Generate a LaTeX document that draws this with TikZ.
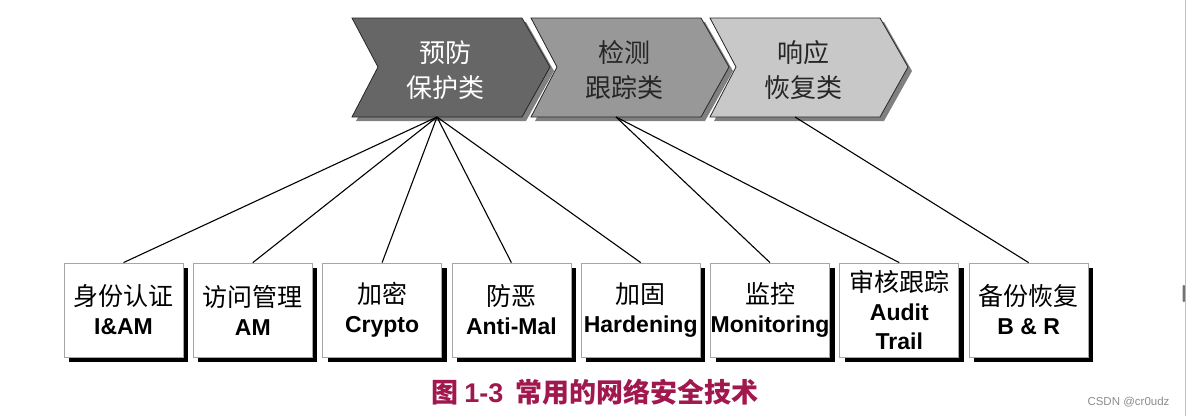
\documentclass[tikz,border=0pt]{standalone}
\usepackage{fontspec}
\setmainfont{Liberation Sans}
\newfontfamily\zh{Noto Sans CJK SC}
\usetikzlibrary{shadows}
\definecolor{titlered}{RGB}{160,24,78}
\definecolor{chevdark}{RGB}{102,102,102}
\definecolor{chevmid}{RGB}{152,152,152}
\definecolor{chevlight}{RGB}{200,200,200}
\begin{document}
\begin{tikzpicture}[x=1pt,y=-1pt]
	\tikzstyle{chev}=[draw=black!85, line width=0.8pt]
	\tikzstyle{chevshadow}=[fill=black!50]
	\tikzstyle{chevtext}=[align=center, font=\zh\fontsize{26}{35}\selectfont]
	\tikzstyle{box}=[rectangle, draw=black!35, fill=white, line width=0.8pt, minimum width=119pt, minimum height=94pt, inner sep=0pt, align=center, font=\fontsize{23}{29}\selectfont\bfseries, drop shadow={shadow xshift=5pt, shadow yshift=-5pt, fill=black, opacity=1}]
	\tikzstyle{edge}=[draw, line width=1.1pt]
	\useasboundingbox (0,0) rectangle (1187,416);
	% three stages
	\path[chevshadow] (356,22) -- (526,22) -- (554,71) -- (526,121) -- (356,121) -- (382,71) -- cycle;
	\path[chev, fill=chevdark] (352,18) -- (522,18) -- (550,67) -- (522,117) -- (352,117) -- (378,67) -- cycle;
	\path[chevshadow] (535,22) -- (705,22) -- (733,71) -- (705,121) -- (535,121) -- (561,71) -- cycle;
	\path[chev, fill=chevmid] (531,18) -- (701,18) -- (729,67) -- (701,117) -- (531,117) -- (557,67) -- cycle;
	\path[chevshadow] (714,22) -- (884,22) -- (912,71) -- (884,121) -- (714,121) -- (740,71) -- cycle;
	\path[chev, fill=chevlight] (710,18) -- (880,18) -- (908,67) -- (880,117) -- (710,117) -- (736,67) -- cycle;
	\node [chevtext, text=white] (t1) at (445,70) {预防\\保护类};
	\node [chevtext, text=black!85] (t2) at (624,70) {检测\\跟踪类};
	\node [chevtext, text=black!85] (t3) at (803,70) {响应\\恢复类};
	\coordinate (c1) at (437,117);
	\coordinate (c2) at (616,117);
	\coordinate (c3) at (795,117);
	% techniques
	\node [box] (b1) at (123.5,310) {{\zh\mdseries\fontsize{25}{29}\selectfont 身份认证}\\I\&AM};
	\node [box] (b2) at (252.8,310) {{\zh\mdseries\fontsize{25}{29}\selectfont 访问管理}\\AM};
	\node [box] (b3) at (382.1,310) {{\zh\mdseries\fontsize{25}{29}\selectfont 加密}\\Crypto};
	\node [box] (b4) at (511.4,310) {{\zh\mdseries\fontsize{25}{29}\selectfont 防恶}\\Anti-Mal};
	\node [box] (b5) at (640.7,310) {{\zh\mdseries\fontsize{25}{29}\selectfont 加固}\\Hardening};
	\node [box] (b6) at (770.0,310) {{\zh\mdseries\fontsize{25}{29}\selectfont 监控}\\Monitoring};
	\node [box] (b7) at (899.3,310) {{\zh\mdseries\fontsize{25}{29}\selectfont 审核跟踪}\\Audit\\Trail};
	\node [box] (b8) at (1028.6,310) {{\zh\mdseries\fontsize{25}{29}\selectfont 备份恢复}\\B \& R};
	\path[edge] (c1) -- (b1.north);
	\path[edge] (c1) -- (b2.north);
	\path[edge] (c1) -- (b3.north);
	\path[edge] (c1) -- (b4.north);
	\path[edge] (c1) -- (b5.north);
	\path[edge] (c2) -- (b6.north);
	\path[edge] (c2) -- (b7.north);
	\path[edge] (c3) -- (b8.north);
	% caption
	\node [text=titlered, font=\zh\bfseries\fontsize{27}{32}\selectfont] (title) at (595,392) {图 {\rmfamily\bfseries 1-3}\ \ 常用的网络安全技术};
	\node [text=black!45, anchor=east, font=\fontsize{11.5}{13}\selectfont] (mark) at (1173,402) {CSDN @cr0udz};
	\draw [black!25] (1185.5,0) -- (1185.5,416);
	\fill [black!55, rounded corners=1pt] (1182.5,285) rectangle (1185,302);
\end{tikzpicture}
\end{document}
